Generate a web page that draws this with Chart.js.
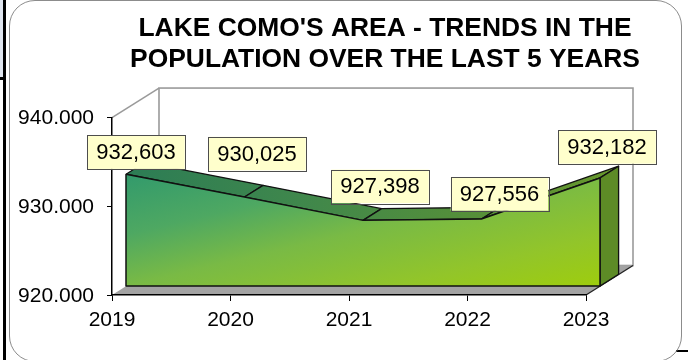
<!DOCTYPE html>
<html>
<head>
<meta charset="utf-8">
<title>Lake Como's area - population trend</title>
<script src="https://cdn.jsdelivr.net/npm/chart.js@4.4.1/dist/chart.umd.min.js"></script>
<style>
  html, body { margin: 0; padding: 0; background: #fff; }
  #wrap { position: relative; width: 688px; height: 360px; overflow: hidden; }
  #frame { position: absolute; left: 9px; top: 0; width: 673px; height: 362px; box-sizing: border-box;
           border: 1.3px solid #8c8c8c; border-radius: 26px; }
  #cell { position: absolute; left: 0; top: 0; width: 4px; height: 78px; background: #dfe5ef; }
  .edge { position: absolute; background: #000; }
  /* wider than the frame so the title centres over the framed chart, not the plot */
  #myChart { position: absolute; left: 0; top: 0; }
</style>
</head>
<body>
<div id="wrap">
  <div id="cell"></div>
  <div class="edge" style="left:3px;top:0;width:3px;height:360px"></div>
  <div class="edge" style="left:0;top:77px;width:6px;height:2.5px"></div>
  <div class="edge" style="left:676px;top:350px;width:12px;height:1.5px"></div>
  <div id="frame"></div>
  <canvas id="myChart" width="770" height="360"></canvas>
</div>
<script>
var years = ["2019", "2020", "2021", "2022", "2023"];
var population = [932603, 930025, 927398, 927556, 932182];
var yMin = 920000;
var yMax = 940000;
var yStep = 10000;

var fontFamily = '"Liberation Sans", Arial, Helvetica, sans-serif';

// 3d look: depth of the walls and where the area slab sits inside it (px)
var wallDepth = [47, -29.5];
var faceFront = [14, -9];
var faceBack = [32.6, -20.7];
// value boxes, moved from the front top corner of each point
var labelNudge = [[10, -22], [12.5, -43.5], [17, -34], [18, -25], [7, -31]];

function dots(v) { return String(v).replace(/\B(?=(\d{3})+(?!\d))/g, "."); }
function commas(v) { return String(v).replace(/\B(?=(\d{3})+(?!\d))/g, ","); }

function pt(chart, i, off) {
  return [chart.scales.x.getPixelForValue(i) + off[0],
          chart.scales.y.getPixelForValue(population[i]) + off[1]];
}
function base(chart, i, off) {
  return [chart.scales.x.getPixelForValue(i) + off[0],
          chart.scales.y.getPixelForValue(yMin) + off[1]];
}
function poly(ctx, pts) {
  ctx.beginPath();
  ctx.moveTo(pts[0][0], pts[0][1]);
  for (var k = 1; k < pts.length; k++) ctx.lineTo(pts[k][0], pts[k][1]);
  ctx.closePath();
}

// front face: 45 degree gradient over the face's own box
function frontGradient(context) {
  var chart = context.chart;
  var a = chart.chartArea;
  if (!a) return "#5aae4e";
  var y0 = Math.min.apply(null, population.map(function (v) { return chart.scales.y.getPixelForValue(v); }));
  var W = a.right - a.left, H = a.bottom - y0;
  var gx = 1 / (2 * W), gy = 1 / (2 * H), g2 = gx * gx + gy * gy;
  var grad = chart.ctx.createLinearGradient(a.left, y0, a.left + gx / g2, y0 + gy / g2);
  grad.addColorStop(0, "#329a6c");
  grad.addColorStop(0.27, "#4ea862");
  grad.addColorStop(0.5, "#79ba45");
  grad.addColorStop(0.78, "#92c52a");
  grad.addColorStop(1, "#9ecd0e");
  return grad;
}

var box3d = {
  id: "box3d",
  beforeDraw: function (chart) {
    var ctx = chart.ctx, a = chart.chartArea, dx = wallDepth[0], dy = wallDepth[1];
    ctx.save();
    // back wall
    ctx.fillStyle = "#fff";
    ctx.strokeStyle = "#9a9a9a";
    ctx.lineWidth = 1.6;
    ctx.fillRect(a.left + dx, a.top + dy, a.width, a.height);
    ctx.strokeRect(a.left + dx, a.top + dy, a.width, a.height);
    // side wall top edge
    ctx.beginPath();
    ctx.moveTo(a.left, a.top);
    ctx.lineTo(a.left + dx, a.top + dy);
    ctx.stroke();
    // floor
    poly(ctx, [[a.left, a.bottom], [a.right, a.bottom], [a.right + dx, a.bottom + dy], [a.left + dx, a.bottom + dy]]);
    ctx.fillStyle = "#a3a3a3";
    ctx.fill();
    ctx.strokeStyle = "#222";
    ctx.lineWidth = 1.3;
    ctx.beginPath();
    ctx.moveTo(a.right, a.bottom);
    ctx.lineTo(a.right + dx, a.bottom + dy);
    ctx.stroke();
    ctx.restore();
  },
  beforeDatasetsDraw: function (chart) {
    var ctx = chart.ctx, n = population.length;
    ctx.save();
    ctx.lineJoin = "round";
    ctx.lineWidth = 1.3;
    ctx.strokeStyle = "#111";
    var x0 = pt(chart, 0, faceFront)[0], x1 = pt(chart, n - 1, faceBack)[0];
    var topGrad = ctx.createLinearGradient(x0, 0, x1, 0);
    topGrad.addColorStop(0, "#2c7c55");
    topGrad.addColorStop(0.35, "#3f874c");
    topGrad.addColorStop(0.65, "#528e3c");
    topGrad.addColorStop(1, "#68982c");
    // top surface, one strip per segment
    for (var i = 0; i < n - 1; i++) {
      poly(ctx, [pt(chart, i, faceFront), pt(chart, i + 1, faceFront), pt(chart, i + 1, faceBack), pt(chart, i, faceBack)]);
      ctx.fillStyle = topGrad;
      ctx.fill();
      ctx.stroke();
    }
    // right end of the slab
    poly(ctx, [pt(chart, n - 1, faceFront), base(chart, n - 1, faceFront), base(chart, n - 1, faceBack), pt(chart, n - 1, faceBack)]);
    ctx.fillStyle = "#5d8b26";
    ctx.fill();
    ctx.stroke();
    ctx.restore();
    // the dataset itself is drawn shifted onto the slab's front plane
    ctx.save();
    ctx.translate(faceFront[0], faceFront[1]);
  },
  afterDatasetsDraw: function (chart) {
    var ctx = chart.ctx, n = population.length;
    ctx.restore();
    ctx.save();
    ctx.strokeStyle = "#111";
    ctx.lineWidth = 1.5;
    ctx.lineJoin = "round";
    var p = [pt(chart, 0, faceFront), base(chart, 0, faceFront), base(chart, n - 1, faceFront), pt(chart, n - 1, faceFront)];
    ctx.beginPath();
    ctx.moveTo(p[0][0], p[0][1]);
    for (var k = 1; k < p.length; k++) ctx.lineTo(p[k][0], p[k][1]);
    ctx.stroke();
    ctx.restore();
  },
  afterDraw: function (chart) {
    var ctx = chart.ctx;
    ctx.save();
    ctx.font = "22px " + fontFamily;
    ctx.textAlign = "center";
    ctx.textBaseline = "middle";
    for (var i = 0; i < population.length; i++) {
      var p = pt(chart, i, faceFront);
      var cx = p[0] + labelNudge[i][0], cy = p[1] + labelNudge[i][1];
      var txt = commas(population[i]);
      var w = ctx.measureText(txt).width + 18, h = 33.5;
      ctx.fillStyle = "#ffffcc";
      ctx.fillRect(cx - w / 2, cy - h / 2, w, h);
      ctx.strokeStyle = "#4d4d4d";
      ctx.lineWidth = 1;
      ctx.strokeRect(Math.round(cx - w / 2) + 0.5, Math.round(cy - h / 2) + 0.5, Math.round(w), Math.round(h));
      ctx.fillStyle = "#000";
      ctx.fillText(txt, cx, cy + 1);
    }
    ctx.restore();
  }
};

Chart.defaults.font.family = fontFamily;
Chart.defaults.color = "#000";

var c = new Chart("myChart", {
  type: "line",
  data: {
    labels: years,
    datasets: [{
      data: population,
      fill: "start",
      backgroundColor: frontGradient,
      borderColor: "#111",
      borderWidth: 1.5,
      pointRadius: 0,
      tension: 0,
      clip: false
    }]
  },
  options: {
    responsive: false,
    animation: false,
    devicePixelRatio: 1,
    layout: { padding: 0 },
    plugins: {
      legend: { display: false },
      tooltip: { enabled: false },
      title: {
        display: true,
        text: ["LAKE COMO'S AREA - TRENDS IN THE", "POPULATION OVER THE LAST 5 YEARS"],
        color: "#000",
        font: { size: 26.4, weight: "bold", lineHeight: 1.145 },
        padding: { top: 14, bottom: 43.1 }
      }
    },
    scales: {
      x: {
        offset: false,
        grid: { drawOnChartArea: false, color: "#000", tickLength: 6 },
        border: { color: "#000", width: 1.5 },
        ticks: { color: "#000", font: { size: 21 }, padding: 7, maxRotation: 0, autoSkip: false },
        afterFit: function (s) { s.height = 65; }
      },
      y: {
        min: yMin,
        max: yMax,
        grid: { drawOnChartArea: false, color: "#000", tickLength: 5 },
        border: { color: "#000", width: 1.5 },
        ticks: { stepSize: yStep, color: "#000", font: { size: 21 }, padding: 13, labelOffset: 1,
                 callback: function (v) { return dots(v); } },
        afterFit: function (s) { s.width = 112; }
      },
      pad: {
        type: "linear",
        position: "right",
        grid: { display: false },
        border: { display: false },
        ticks: { display: false },
        afterFit: function (s) { s.width = 184; }
      }
    }
  },
  plugins: [box3d]
});
</script>
</body>
</html>
